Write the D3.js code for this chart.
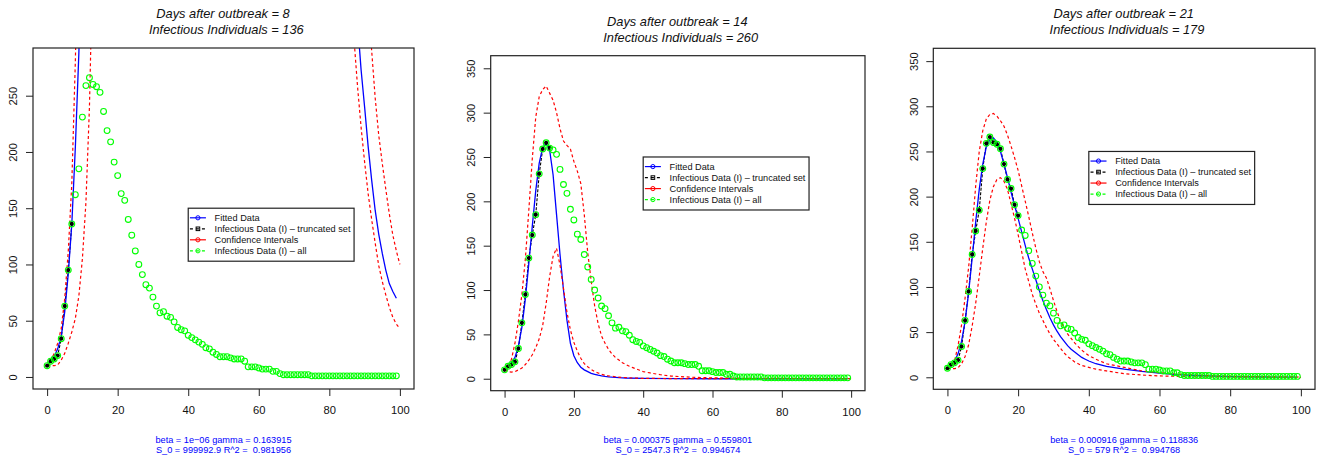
<!DOCTYPE html>
<html><head><meta charset="utf-8">
<script src="https://cdn.jsdelivr.net/npm/d3@7"></script>
<style>
html,body{margin:0;padding:0;background:#fff;}
svg{display:block;font-family:"Liberation Sans",Arial,Helvetica,sans-serif;}
</style></head><body>
<svg id="chart" width="1319" height="461"></svg>
<script>
// ---------------- data ----------------
const infectiousAll = [10,14,16,19,34,63,95,136,162,185,
 231,259,266,260,258,253,236,219,209,191,
 179,163,157,140,126,112,100,91,82,79,
 71,63,57,58,54,53,49,44,42,41,
 37,35,33,31,29,26,25,22,20,18,
 18,18,17,16,16,16,14,9,9,9,
 8,7,7,7,5,5,3,2,2,2,
 2,2,2,2,2,1,1,1,1,1,
 1,1,1,1,1,1,1,1,1,1,
 1,1,1,1,1,1,1,1,1,1];

const daysAfterOutbreak = [8, 14, 21];
const infectiousIndividuals = [136, 260, 179];
const truncatedLength = [8, 14, 21];

const fitLine1 = ["beta = 1e\u221206 gamma = 0.163915", "beta = 0.000375 gamma = 0.559801", "beta = 0.000916 gamma = 0.118836"];
const fitLine2 = ["S_0 = 999992.9 R^2 =  0.981956", "S_0 = 2547.3 R^2 =  0.994674", "S_0 = 579 R^2 =  0.994768"];

const xTicks = [0,20,40,60,80,100];
const yTicksA = [0,50,100,150,200,250];
const yTicksB = [0,50,100,150,200,250,300,350];

const legendLabels = ["Fitted Data", "Infectious Data (I) \u2013 truncated set", "Confidence Intervals", "Infectious Data (I) \u2013 all"];

// panel 1 curves
const fit1Day = [0,1,2,3,4,5,6,7,8,9,10,11,86,87,88,89,90,91,92,93,94,95,96,97,98,99];
const fit1Val = [10,14,18,25,36,58,92,136,204,288,400,560,450,380,315,273,240,205,175,148,127,110,95,83,76,70];
const upper1Day = [0,1,2,3,4,5,6,7,8,9,89,90,91,92,93,94,95,96,97,98,99,100];
const upper1Val = [10,14,21,30,43,70,112,172,280,420,430,380,330,290,248,215,190,167,145,126,112,100];
const lower1Day = [0,1,2,3,4,5,6,7,8,9,10,11,12,13,84,85,86,87,88,89,90,91,92,93,94,95,96,97,98,99,100];
const lower1Val = [10,10,10,10.7,15,21,30,40,52,72,105,155,240,380,440,380,330,300,258,222,191,163,140,119,99,85,73,62,53,47,43];

// panel 2 curves
const fit2Day = [0,1,2,3,4,5,6,7,8,9,10,11,12,13,14,15,16,17,18,19,20,21,22,23,24,25,26,27,28,29,30,31,32,33,34,35,40,50,60,99];
const fit2Val = [10,13,18,24,37,58,90,130,172,212,243,261,265,258,230,185,140,100,66,40,26,18,13,10,8,6,5,4,3.3,2.7,2.2,1.8,1.5,1.2,1,0.8,0.3,0.1,0,0];
const upper2Day = [0,1,2,3,4,5,6,7,8,9,10,11,12,13,14,15,16,17,18,19,20,21,22,23,24,25,26,27,28,29,30,31,32,33,34,35,36,37,38,39,40,42,45,48,55,60,70,80,100];
const upper2Val = [10,14,22,40,65,95,135,190,248,295,318,326,330,322,314,300,282,268,263,259,245,234,220,185,142,110,82,62,48,40,33,28,24,21,18,16,14,12.5,11,9.5,8,6.5,4.5,3,1.5,1,0.5,0.3,0];
const lower2Day = [0,1,2,3,4,5,6,7,8,9,10,11,12,13,14,15,16,17,18,19,20,21,22,23,24,25,26,27,28,29,30,32,34,37,40,50,100];
const lower2Val = [10,8,7.5,8,10,12,16,21,27,35,45,60,85,115,138,147,128,102,75,55,41,31,23,17,13.5,10.5,8,6.5,5,4,3.3,2.2,1.5,0.8,0.4,0.1,0];

// panel 3 curves
const fit3Day = [0,1,2,3,4,5,6,7,8,9,10,11,12,13,14,15,16,17,18,19,20,21,22,23,24,25,26,27,28,29,30,31,32,33,34,35,36,37,38,39,40,42,45,50,55,60,65,70,80,90,99];
const fit3Val = [10,13,18,26,40,62,94,132,172,208,236,255,263,265,260,250,236,221,205,190,176,161,146,132,120,108,96,85,75,66,58,51,45,40,35,31,28,25,22,20,18,15,12,9,6.5,4.5,3,2,0.8,0.3,0.1];
const upper3Day = [0,1,2,3,4,5,6,7,8,9,10,11,12,13,14,15,16,17,18,19,20,21,22,23,24,25,26,27,28,29,30,31,32,33,34,35,36,37,38,39,40,42,45,50,55,60,65,70,80,90,100];
const upper3Val = [10,12,18,35,58,88,122,165,212,250,273,286,291,292,289,284,278,268,256,243,229,212,195,178,160,143,128,117,110,98,85,73,62,55,48,43,38,34,30,27,24,20,15,11,7,5,3.5,2.5,1.2,0.6,0.3];
const lower3Day = [0,1,2,3,4,5,6,7,8,9,10,11,12,13,14,15,16,17,18,19,20,21,22,23,24,25,26,27,28,29,30,31,32,33,34,35,36,37,38,40,42,45,50,55,60,70,80,100];
const lower3Val = [10,9.5,9.5,10.5,15,23,36,57,82,112,143,172,196,211,219,221,217,208,192,176,158,139,120,106,92,81,71,63,55,48,42,37,32,27,23,20,17,15,13,11,9,7,4,2.5,1.5,0.6,0.2,0];

// ---------------- layout ----------------
const panels = [
  {left:33, right:414, top:48, bottom:389, yDom:[-10.7,292.4], yTicks:yTicksA, legendAt:[40,150],
   fit:[fit1Day,fit1Val], upper:[upper1Day,upper1Val], lower:[lower1Day,lower1Val]},
  {left:490.7, right:865, top:55.7, bottom:390.7, yDom:[-13.5,364.2], yTicks:yTicksB, legendAt:[40,250],
   fit:[fit2Day,fit2Val], upper:[upper2Day,upper2Val], lower:[lower2Day,lower2Val]},
  {left:933.3, right:1315, top:48.3, bottom:389.3, yDom:[-13.3,364.2], yTicks:yTicksB, legendAt:[40,250],
   fit:[fit3Day,fit3Val], upper:[upper3Day,upper3Val], lower:[lower3Day,lower3Val]}
];

const svg = d3.select("#chart");
const BLUE = "#0000ff", RED = "#ff0000", GREEN = "#00ff00";

panels.forEach((p, pi) => {
  const g = svg.append("g");
  const x = d3.scaleLinear().domain([-4, 104]).range([p.left, p.right]);
  const y = d3.scaleLinear().domain(p.yDom).range([p.bottom, p.top]);
  const cx = (p.left + p.right) / 2;

  const clipId = "clip" + pi;
  svg.append("clipPath").attr("id", clipId).append("rect")
    .attr("x", p.left).attr("y", p.top).attr("width", p.right - p.left).attr("height", p.bottom - p.top);

  const pairs = (a) => a[0].map((d, i) => [d, a[1][i]]);
  const line = d3.line().x(d => x(d[0])).y(d => y(d[1]));
  const plot = g.append("g").attr("clip-path", `url(#${clipId})`);

  const trunc = infectiousAll.slice(0, truncatedLength[pi]).map((v, i) => [i, v]);
  const all = infectiousAll.map((v, i) => [i, v]);

  // truncated data line
  plot.append("path").datum(trunc).attr("d", line)
    .attr("fill", "none").attr("stroke", "#000").attr("stroke-width", 1.1).attr("stroke-dasharray", "3,1.5");
  // fitted
  plot.append("path").datum(pairs(p.fit)).attr("d", line)
    .attr("fill", "none").attr("stroke", BLUE).attr("stroke-width", 1.3);
  // CIs
  [p.upper, p.lower].forEach(c => {
    plot.append("path").datum(pairs(c)).attr("d", line)
      .attr("fill", "none").attr("stroke", RED).attr("stroke-width", 1.2).attr("stroke-dasharray", "3,2.6");
  });
  // truncated points
  plot.selectAll("circle.tr").data(trunc).join("circle").attr("class", "tr")
    .attr("cx", d => x(d[0])).attr("cy", d => y(d[1])).attr("r", 2.1).attr("fill", "#000");
  // all points
  plot.selectAll("circle.all").data(all).join("circle").attr("class", "all")
    .attr("cx", d => x(d[0])).attr("cy", d => y(d[1])).attr("r", 2.9)
    .attr("fill", "none").attr("stroke", GREEN).attr("stroke-width", 1.1);

  // box
  g.append("rect").attr("x", p.left).attr("y", p.top).attr("width", p.right - p.left).attr("height", p.bottom - p.top)
    .attr("fill", "none").attr("stroke", "#222").attr("stroke-width", 1.2);

  // x axis
  const xa = g.append("g").attr("transform", `translate(0,${p.bottom})`)
    .call(d3.axisBottom(x).tickValues(xTicks).tickSize(7).tickPadding(10).tickFormat(d3.format("d")));
  xa.select(".domain").remove();
  xa.selectAll("line").attr("stroke", "#222");
  xa.selectAll("text").attr("font-size", "11.2px").attr("fill", "#111").attr("font-family", null);

  // y axis
  const ya = g.append("g").attr("transform", `translate(${p.left},0)`)
    .call(d3.axisLeft(y).tickValues(p.yTicks).tickSize(7).tickFormat(d3.format("d")));
  ya.select(".domain").remove();
  ya.selectAll("line").attr("stroke", "#222");
  ya.selectAll("text").attr("font-size", "11.2px").attr("fill", "#111").attr("font-family", null)
    .attr("x", null).attr("dy", "0.35em").attr("text-anchor", "middle")
    .attr("transform", "translate(-19.5,0) rotate(-90)");

  // title
  g.append("text").attr("x", cx - 0.5).attr("y", p.top - 30.2).attr("text-anchor", "middle")
    .attr("font-style", "italic").attr("font-size", "12.8px").attr("fill", "#111")
    .text(`Days after outbreak = ${daysAfterOutbreak[pi]}`);
  g.append("text").attr("x", cx + 2.8).attr("y", p.top - 14.2).attr("text-anchor", "middle")
    .attr("font-style", "italic").attr("font-size", "12.8px").attr("fill", "#111")
    .text(`Infectious Individuals = ${infectiousIndividuals[pi]}`);

  // bottom texts
  g.append("text").attr("x", cx).attr("y", 443.3).attr("text-anchor", "middle")
    .attr("font-size", "9.2px").attr("fill", BLUE).style("white-space", "pre").text(fitLine1[pi]);
  g.append("text").attr("x", cx).attr("y", 453.3).attr("text-anchor", "middle")
    .attr("font-size", "9.2px").attr("fill", BLUE).style("white-space", "pre").text(fitLine2[pi]);

  // legend
  const L = x(p.legendAt[0]), T = y(p.legendAt[1]);
  const lg = g.append("g");
  const box = lg.append("rect").attr("x", L).attr("y", T).attr("height", 53)
    .attr("fill", "#fff").attr("stroke", "#222").attr("stroke-width", 1.2);
  const colors = [BLUE, "#000", RED, GREEN];
  const dashed = [false, true, false, true];
  let maxW = 0;
  legendLabels.forEach((lab, i) => {
    const ry = T + 9.6 + i * 11;
    lg.append("line").attr("x1", L + 1.7).attr("x2", L + 17.7).attr("y1", ry).attr("y2", ry)
      .attr("stroke", colors[i]).attr("stroke-width", 1.2)
      .attr("stroke-dasharray", dashed[i] ? "3,3" : null);
    if (i === 1) {
      lg.append("rect").attr("x", L + 7.9).attr("y", ry - 1.8).attr("width", 3.6).attr("height", 3.6)
        .attr("fill", "none").attr("stroke", "#000").attr("stroke-width", 1);
    } else {
      lg.append("circle").attr("cx", L + 9.7).attr("cy", ry).attr("r", 2.1)
        .attr("fill", "none").attr("stroke", colors[i]).attr("stroke-width", 1);
    }
    const t = lg.append("text").attr("x", L + 26.4).attr("y", ry).attr("dy", "0.35em")
      .attr("font-size", "9.2px").attr("fill", "#111").text(lab);
    maxW = Math.max(maxW, t.node().getComputedTextLength());
  });
  box.attr("width", 26.4 + maxW + 3.6);
});
</script>
</body></html>
